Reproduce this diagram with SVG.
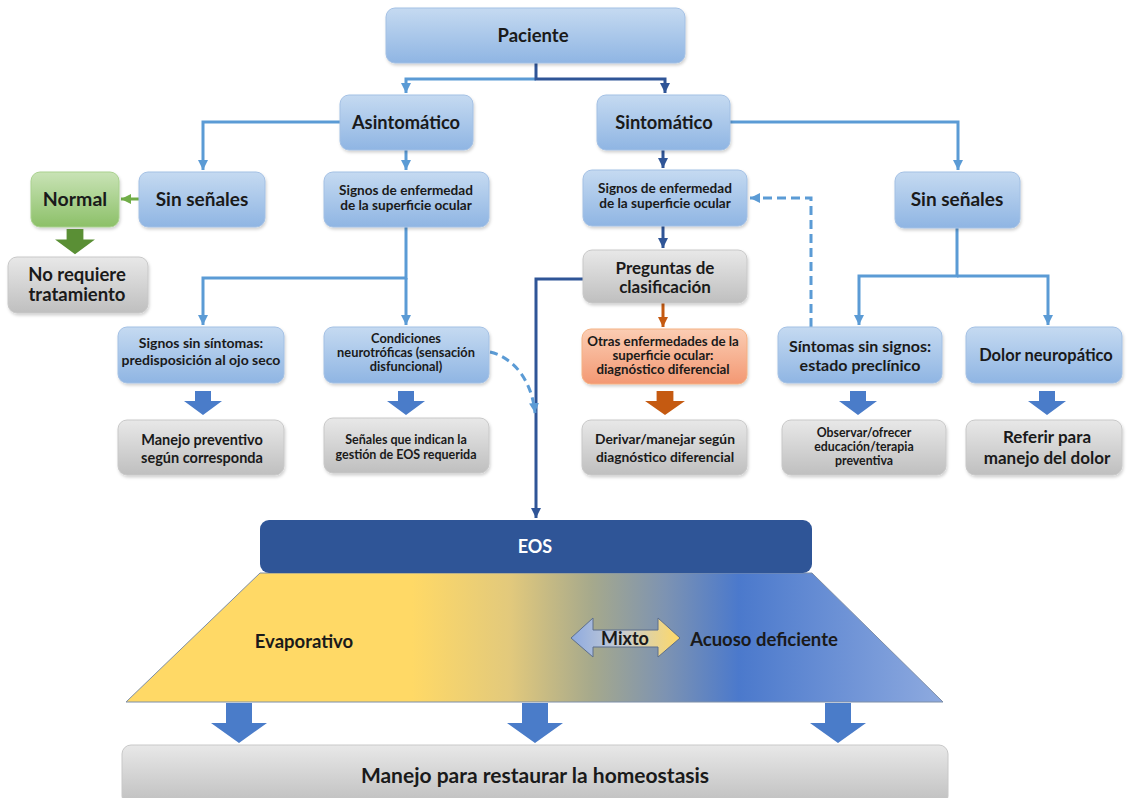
<svg xmlns="http://www.w3.org/2000/svg" width="1130" height="798" viewBox="0 0 1130 798">
<defs>
  <linearGradient id="gBlue" x1="0" y1="0" x2="0" y2="1">
    <stop offset="0" stop-color="#c5daf1"/>
    <stop offset="1" stop-color="#8fb5e3"/>
  </linearGradient>
  <linearGradient id="gGray" x1="0" y1="0" x2="0" y2="1">
    <stop offset="0" stop-color="#e8e8e8"/>
    <stop offset="1" stop-color="#bfbfbf"/>
  </linearGradient>
  <linearGradient id="gGreen" x1="0" y1="0" x2="0" y2="1">
    <stop offset="0" stop-color="#c9e3b6"/>
    <stop offset="1" stop-color="#8cc068"/>
  </linearGradient>
  <linearGradient id="gOrange" x1="0" y1="0" x2="0" y2="1">
    <stop offset="0" stop-color="#fbcdb3"/>
    <stop offset="1" stop-color="#f39873"/>
  </linearGradient>
  <linearGradient id="gTrap" gradientUnits="userSpaceOnUse" x1="126" y1="0" x2="943" y2="0">
    <stop offset="0" stop-color="#ffd966"/>
    <stop offset="0.35" stop-color="#ffd966"/>
    <stop offset="0.47" stop-color="#e2c97c"/>
    <stop offset="0.57" stop-color="#a6a98c"/>
    <stop offset="0.66" stop-color="#7d93b2"/>
    <stop offset="0.75" stop-color="#4b79cc"/>
    <stop offset="1" stop-color="#8eaadf"/>
  </linearGradient>
  <linearGradient id="gMix" x1="0" y1="0" x2="1" y2="0">
    <stop offset="0" stop-color="#8eaadf"/>
    <stop offset="0.45" stop-color="#c6cdd6"/>
    <stop offset="1" stop-color="#ffd966"/>
  </linearGradient>
  <filter id="sh" x="-10%" y="-10%" width="120%" height="130%">
    <feDropShadow dx="1" dy="2" stdDeviation="1.5" flood-color="#000" flood-opacity="0.18"/>
  </filter>
  <marker id="mLight" markerUnits="userSpaceOnUse" markerWidth="12" markerHeight="12" refX="10" refY="6" orient="auto">
    <path d="M0,1 L10,6 L0,11 Z" fill="#5b9bd5"/>
  </marker>
  <marker id="mDark" markerUnits="userSpaceOnUse" markerWidth="12" markerHeight="12" refX="10" refY="6" orient="auto">
    <path d="M0,1 L10,6 L0,11 Z" fill="#2f5597"/>
  </marker>
  <marker id="mGreen" markerUnits="userSpaceOnUse" markerWidth="12" markerHeight="12" refX="10" refY="6" orient="auto">
    <path d="M0,1 L10,6 L0,11 Z" fill="#70ad47"/>
  </marker>
  <marker id="mOrange" markerUnits="userSpaceOnUse" markerWidth="12" markerHeight="12" refX="10" refY="6" orient="auto">
    <path d="M0,1 L10,6 L0,11 Z" fill="#c55a11"/>
  </marker>
  <path id="bArrow" d="M-8,0 H8 V10 H19 L0,24 L-19,10 H-8 Z"/>
  <path id="bigArrow" d="M-13,0 H13 V20 H28 L0,40 L-28,20 H-13 Z"/>
  <style>
    .b{fill:url(#gBlue);stroke:#a3c0e4;stroke-width:1;filter:url(#sh)}
    .g{fill:url(#gGray);stroke:#c8c8c8;stroke-width:1;filter:url(#sh)}
    .t{font-family:Lato,"Liberation Sans",sans-serif;font-weight:bold;fill:#1a1a1a;text-anchor:middle}
    .c{fill:none;stroke-width:3}
    .lt{stroke:#5b9bd5}
    .dk{stroke:#2f5597}
    .ba{fill:#4a7cc9}
  </style>
</defs>

<g id="connectors">
  <path class="c lt" d="M536,79 H406 V93" marker-end="url(#mLight)"/>
  <path class="c dk" d="M536,63 V79 H665 V93" marker-end="url(#mDark)"/>
  <path class="c lt" d="M340,122 H203 V170" marker-end="url(#mLight)"/>
  <path class="c lt" d="M406,150 V170" marker-end="url(#mLight)"/>
  <path class="c lt" d="M730,122 H958 V170" marker-end="url(#mLight)"/>
  <path class="c dk" d="M663,150 V168" marker-end="url(#mDark)"/>
  <path class="c dk" d="M663,226 V248" marker-end="url(#mDark)"/>
  <path class="c lt" d="M406,227 V278 H203 V325" marker-end="url(#mLight)"/>
  <path class="c lt" d="M406,278 V325" marker-end="url(#mLight)"/>
  <path class="c lt" d="M957,228 V276 H859 V325" marker-end="url(#mLight)"/>
  <path class="c lt" d="M957,276 H1048 V325" marker-end="url(#mLight)"/>
  <path class="c" stroke="#70ad47" d="M139,199 H121" marker-end="url(#mGreen)"/>
  <path class="c" stroke="#c55a11" d="M663,303 V327" marker-end="url(#mOrange)"/>
  <path class="c lt" stroke-dasharray="9,5" d="M811,327 V198 H750" marker-end="url(#mLight)"/>
  <path class="c dk" d="M583,279 H536 V518" marker-end="url(#mDark)"/>
  <path class="c lt" stroke-dasharray="8,5" d="M490,352 C515,358 532,382 535,413" marker-end="url(#mLight)"/>
</g>

<g id="paciente">
  <rect class="b" x="386" y="8" width="299" height="55" rx="9"/>
  <text class="t" x="533" y="42" font-size="18.5">Paciente</text>
</g>
<g id="asintomatico">
  <rect class="b" x="340" y="95" width="133" height="55" rx="9"/>
  <text class="t" x="406" y="129" font-size="18.3">Asintomático</text>
</g>
<g id="sintomatico">
  <rect class="b" x="597" y="95" width="133" height="55" rx="9"/>
  <text class="t" x="664" y="129" font-size="18.3">Sintomático</text>
</g>
<g id="normal">
  <rect x="31" y="172" width="88" height="55" rx="9" fill="url(#gGreen)" stroke="#a9d18e" filter="url(#sh)"/>
  <text class="t" x="75" y="206" font-size="19.5">Normal</text>
</g>
<g id="sin-senales-izq">
  <rect class="b" x="139" y="172" width="126" height="55" rx="9"/>
  <text class="t" x="202" y="206" font-size="19">Sin señales</text>
</g>
<g id="signos-izq">
  <rect class="b" x="324" y="172" width="165" height="55" rx="9"/>
  <text class="t" x="406" y="195" font-size="13.6">Signos de enfermedad</text>
  <text class="t" x="406" y="210" font-size="13.6">de la superficie ocular</text>
</g>
<g id="signos-der">
  <rect class="b" x="583" y="170" width="164" height="56" rx="9"/>
  <text class="t" x="665" y="193" font-size="13.6">Signos de enfermedad</text>
  <text class="t" x="665" y="208" font-size="13.6">de la superficie ocular</text>
</g>
<g id="sin-senales-der">
  <rect class="b" x="895" y="172" width="125" height="56" rx="9"/>
  <text class="t" x="957" y="206" font-size="19">Sin señales</text>
</g>
<g id="no-requiere">
  <use href="#bArrow" transform="translate(75,229) scale(1.05,1.05)" fill="#5a8f35"/>
  <rect class="g" x="8" y="257" width="140" height="56" rx="9"/>
  <text class="t" x="77" y="281" font-size="18.5">No requiere</text>
  <text class="t" x="77" y="301" font-size="18.5">tratamiento</text>
</g>
<g id="preguntas">
  <rect class="g" x="583" y="250" width="164" height="53" rx="9"/>
  <text class="t" x="665" y="274" font-size="17">Preguntas de</text>
  <text class="t" x="665" y="293" font-size="17">clasificación</text>
</g>
<g id="signos-sin-sintomas">
  <rect class="b" x="118" y="327" width="166" height="56" rx="9"/>
  <text class="t" x="201" y="348" font-size="14">Signos sin síntomas:</text>
  <text class="t" x="201" y="365" font-size="14">predisposición al ojo seco</text>
</g>
<g id="condiciones">
  <rect class="b" x="324" y="327" width="165" height="56" rx="9"/>
  <text class="t" x="406" y="343" font-size="12.8">Condiciones</text>
  <text class="t" x="406" y="357" font-size="12.8">neurotróficas (sensación</text>
  <text class="t" x="406" y="371" font-size="12.8">disfuncional)</text>
</g>
<g id="otras">
  <rect x="582" y="329" width="165" height="55" rx="9" fill="url(#gOrange)" stroke="#f4b183" filter="url(#sh)"/>
  <text class="t" x="663" y="346" font-size="13.3">Otras enfermedades de la</text>
  <text class="t" x="663" y="360" font-size="13.3">superficie ocular:</text>
  <text class="t" x="663" y="374" font-size="13.3">diagnóstico diferencial</text>
</g>
<g id="sintomas-sin-signos">
  <rect class="b" x="778" y="327" width="164" height="56" rx="9"/>
  <text class="t" x="860" y="352" font-size="16">Síntomas sin signos:</text>
  <text class="t" x="860" y="371" font-size="16">estado preclínico</text>
</g>
<g id="dolor">
  <rect class="b" x="966" y="327" width="156" height="56" rx="9"/>
  <text class="t" x="1046" y="361" font-size="16.5">Dolor neuropático</text>
</g>

<g id="block-arrows">
  <use href="#bArrow" class="ba" transform="translate(203,391)"/>
  <use href="#bArrow" class="ba" transform="translate(406,391)"/>
  <use href="#bArrow" transform="translate(665,391) scale(1.05,1)" fill="#c55a11"/>
  <use href="#bArrow" class="ba" transform="translate(858,391)"/>
  <use href="#bArrow" class="ba" transform="translate(1047,391)"/>
</g>

<g id="manejo-preventivo">
  <rect class="g" x="118" y="420" width="166" height="55" rx="9"/>
  <text class="t" x="202" y="445" font-size="14.5">Manejo preventivo</text>
  <text class="t" x="202" y="463" font-size="14.5">según corresponda</text>
</g>
<g id="senales-eos">
  <rect class="g" x="324" y="418" width="165" height="55" rx="9"/>
  <text class="t" x="406" y="444" font-size="12.5">Señales que indican la</text>
  <text class="t" x="406" y="459" font-size="12.5">gestión de EOS requerida</text>
</g>
<g id="derivar">
  <rect class="g" x="582" y="420" width="165" height="55" rx="9"/>
  <text class="t" x="665" y="444" font-size="13.8">Derivar/manejar según</text>
  <text class="t" x="665" y="462" font-size="13.8">diagnóstico diferencial</text>
</g>
<g id="observar">
  <rect class="g" x="782" y="420" width="164" height="55" rx="9"/>
  <text class="t" x="864" y="437" font-size="12.3">Observar/ofrecer</text>
  <text class="t" x="864" y="451" font-size="12.3">educación/terapia</text>
  <text class="t" x="864" y="465" font-size="12.3">preventiva</text>
</g>
<g id="referir">
  <rect class="g" x="966" y="420" width="156" height="55" rx="9"/>
  <text class="t" x="1047" y="443" font-size="17">Referir para</text>
  <text class="t" x="1047" y="464" font-size="17">manejo del dolor</text>
</g>

<g id="eos">
  <polygon points="260,573 812,573 943,702 126,702" fill="url(#gTrap)" stroke="#7d8ea8" stroke-width="1"/>
  <rect x="260" y="520" width="552" height="53" rx="9" fill="#2f5597"/>
  <text class="t" x="535" y="553" font-size="18" style="fill:#ffffff">EOS</text>
  <text class="t" x="304" y="648" font-size="18.5">Evaporativo</text>
  <text class="t" x="764" y="646" font-size="18.5">Acuoso deficiente</text>
</g>
<g id="mixto">
  <path d="M571,638 L593,618 V630 H658 V618 L680,638 L658,657 V647 H593 V657 Z" fill="url(#gMix)" stroke="#5d6f8c" stroke-width="1"/>
  <text class="t" x="625" y="645" font-size="18">Mixto</text>
</g>

<g id="bottom-arrows">
  <use href="#bigArrow" class="ba" transform="translate(239,703)"/>
  <use href="#bigArrow" class="ba" transform="translate(535,703)"/>
  <use href="#bigArrow" class="ba" transform="translate(838,703)"/>
</g>

<g id="manejo-homeostasis">
  <rect x="122" y="745" width="826" height="60" rx="9" fill="url(#gGray)" stroke="#c8c8c8"/>
  <text class="t" x="535" y="783" font-size="21">Manejo para restaurar la homeostasis</text>
</g>
</svg>
